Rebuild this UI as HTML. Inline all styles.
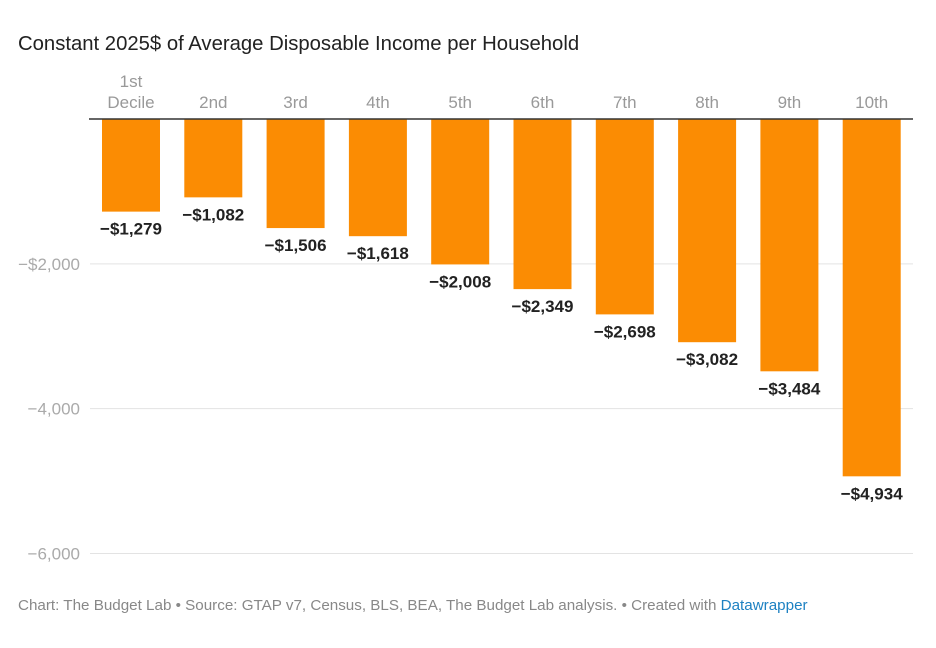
<!DOCTYPE html>
<html><head><meta charset="utf-8"><style>
body{margin:0;background:#fff;font-family:"Liberation Sans",Roboto,sans-serif;}
#wrap{position:relative;width:936px;height:648px;overflow:hidden;}
.title{position:absolute;left:18px;top:33px;font-size:20.3px;color:#222;}
.foot{position:absolute;left:18px;top:597px;font-size:15.2px;color:#888;}
.foot span{color:#1d81c2;}
</style></head><body>
<div id="wrap">
<div class="title">Constant 2025$ of Average Disposable Income per Household</div>
<svg id="svg" width="936" height="648" style="position:absolute;left:0;top:0"></svg>
<div class="foot">Chart: The Budget Lab • Source: GTAP v7, Census, BLS, BEA, The Budget Lab analysis. • Created with <span>Datawrapper</span></div>
</div>
<script>
const categories=[["1st","Decile"],["2nd"],["3rd"],["4th"],["5th"],["6th"],["7th"],["8th"],["9th"],["10th"]];
const values=[-1279,-1082,-1506,-1618,-2008,-2349,-2698,-3082,-3484,-4934];
const valueLabels=["−$1,279","−$1,082","−$1,506","−$1,618","−$2,008","−$2,349","−$2,698","−$3,082","−$3,484","−$4,934"];
const ticks=[-2000,-4000,-6000];
const tickLabels=["−$2,000","−4,000","−6,000"];
const NS="http://www.w3.org/2000/svg";
const svg=document.getElementById('svg');
const y=v=>119+(-v)*0.07242;
const x0=102,step=82.3,bw=58;
const x=i=>x0+i*step;
function mk(t,a){const e=document.createElementNS(NS,t);for(const k in a)e.setAttribute(k,a[k]);svg.appendChild(e);return e;}
ticks.forEach((t,i)=>{
 const g=mk('line',{x1:90,x2:913,y1:y(t),y2:y(t),stroke:'#e3e3e3','stroke-width':1});
 
 
 const l=mk('text',{x:80,y:y(t)+6,'text-anchor':'end','font-size':17,fill:'#aaa','font-family':'Liberation Sans, sans-serif'});
 l.textContent=tickLabels[i];
 
 
});
values.forEach((v,i)=>{
 const b=mk('rect',{x:x(i),y:y(0),width:bw,height:y(v)-y(0),fill:'#fb8c03'});
 
 
 const t=mk('text',{x:x(i)+bw/2,y:y(v)+23,'text-anchor':'middle','font-size':17,'font-weight':'bold',fill:'#222','font-family':'Liberation Sans, sans-serif'});
 t.textContent=valueLabels[i];
 
 
 const c=categories[i];
 c.forEach((s,j)=>{
  const ct=mk('text',{x:x(i)+bw/2,y:108-(c.length-1-j)*21,'text-anchor':'middle','font-size':17,fill:'#999','font-family':'Liberation Sans, sans-serif'});
  ct.textContent=s;
  
  
 });
});
const z=mk('line',{x1:89,x2:913,y1:y(0),y2:y(0),stroke:'#333','stroke-width':1.5});


</script>
</body></html>
